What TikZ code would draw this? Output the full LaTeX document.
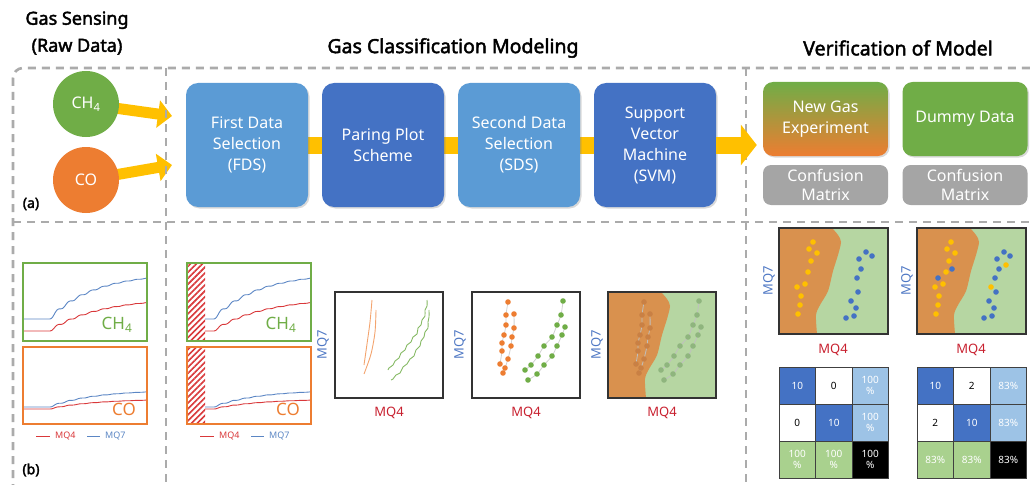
\documentclass[tikz,border=0pt]{standalone}
\usepackage{fontspec}
\setmainfont{Noto Sans}[AutoFakeBold=2.2]
\usetikzlibrary{arrows.meta, positioning, backgrounds, shadows, patterns.meta}

\definecolor{gasgreen}{HTML}{70AD47}
\definecolor{gasorange}{HTML}{ED7D31}
\definecolor{stagelight}{HTML}{5B9BD5}
\definecolor{stagedark}{HTML}{4472C4}
\definecolor{flowyellow}{HTML}{FFC000}
\definecolor{framegray}{HTML}{ABABAB}
\definecolor{boxgray}{HTML}{A5A5A5}
\definecolor{celllight}{HTML}{9DC3E6}
\definecolor{cellgreen}{HTML}{A9D18E}
\definecolor{zoneorange}{HTML}{D9914E}
\definecolor{zonegreen}{HTML}{B6D6A2}
\definecolor{mqred}{HTML}{C8202F}
\definecolor{mqblue}{HTML}{4F78C4}
\definecolor{linered}{HTML}{D9383A}
\definecolor{lineblue}{HTML}{5B86C4}
\definecolor{dotorange}{HTML}{C98044}
\definecolor{dotgreen}{HTML}{8FB57E}

\begin{document}
\begin{tikzpicture}[x=1pt, y=-1pt,
        every node/.style={font=\fontsize{16}{21}\selectfont},
        title/.style={font=\fontsize{19.5}{27}\selectfont\bfseries, align=center},
        frame/.style={framegray, line width=2.6pt, dash pattern=on 8pt off 6pt},
        gas/.style={circle, minimum size=66pt, inner sep=0pt, text=white},
        stage/.style={rounded corners=12pt, minimum width=122pt, minimum height=124pt,
            text=white, align=center, drop shadow={shadow xshift=1.5pt, shadow yshift=-1.5pt, opacity=0.3}},
        result/.style={rounded corners=10pt, minimum width=125pt, minimum height=74pt,
            text=white, align=center, drop shadow={shadow xshift=1.5pt, shadow yshift=-1.5pt, opacity=0.3}},
        cmbox/.style={rounded corners=8pt, fill=boxgray, minimum width=125pt, minimum height=40pt,
            inner sep=0pt, text=white, align=center, font=\fontsize{16}{19}\selectfont},
        feed/.style={flowyellow, line width=11pt, -{Triangle[length=14pt, width=27pt]}},
        band/.style={flowyellow, line width=17pt},
        series/.style={line width=0.9pt},
        tsframe/.style={line width=2.6pt},
        hatch/.style={pattern={Lines[angle=45, distance=4.2pt, line width=1.6pt]}, pattern color=linered},
        plotframe/.style={draw=black!80, line width=1.2pt},
        axislabel/.style={font=\fontsize{13}{13}\selectfont},
        legend/.style={font=\fontsize{9}{9}\selectfont, anchor=west, inner sep=1pt},
        cell/.style={draw=black!75, line width=0.7pt, minimum width=36.5pt, minimum height=37pt,
            inner sep=0pt, align=center, font=\fontsize{10}{11}\selectfont},
        tag/.style={font=\fontsize{14}{14}\selectfont\bfseries}
    ]

    \useasboundingbox (0,0) rectangle (1032,484);

    % titles
    \node[title, font=\fontsize{18}{27}\selectfont\bfseries] (t-raw) at (77,33) {Gas Sensing\\(Raw Data)};
    \node[title] (t-model) at (453,48) {Gas Classification Modeling};
    \node[title] (t-verif) at (898,48) {Verification of Model};

    % dashed frames
    \draw[frame, rounded corners=10pt] (13,68) rectangle (1060,500);
    \draw[frame] (166,68) -- (166,490);
    \draw[frame] (746,68) -- (746,490);
    \draw[frame] (13,222) -- (1040,222);

    % (a) pipeline
    \node[gas, fill=gasgreen] (ch4) at (86,104) {CH\textsubscript{4}};
    \node[gas, fill=gasorange] (co) at (86,180) {CO};
    \coordinate (in1) at (172,116);
    \coordinate (in2) at (172,165);

    \node[stage, fill=stagelight] (fds) at (247,145) {First Data\\Selection\\(FDS)};
    \node[stage, fill=stagedark] (pps) at (383,145) {Paring Plot\\Scheme};
    \node[stage, fill=stagelight] (sds) at (519,145) {Second Data\\Selection\\(SDS)};
    \node[stage, fill=stagedark] (svm) at (655,145) {Support\\Vector\\Machine\\(SVM)};

    \node[result, top color=gasgreen, bottom color=gasorange] (newgas) at (825.5,119) {New Gas\\Experiment};
    \node[result, fill=gasgreen] (dummy) at (965,119) {Dummy Data};
    \node[cmbox] (cm-new) at (825.5,185) {Confusion\\Matrix};
    \node[cmbox] (cm-dummy) at (965,185) {Confusion\\Matrix};

    \begin{scope}[on background layer]
        \draw[feed] (ch4.center) -- (in1);
        \draw[feed] (co.center) -- (in2);
        \draw[band] (fds.center) -- (svm.center);
    \end{scope}
    \draw[band, -{Triangle[length=16pt, width=40pt]}, shorten >=6pt] (svm.east) -- (svm.east -| newgas.west);

    \node[tag] (lab-a) at (31,204) {(a)};
    \node[tag] (lab-b) at (31,470) {(b)};

    % (b) raw signals, then the same after first selection
    \foreach \dx in {0,164} {
        \begin{scope}[shift={(\dx,0)}]
            \draw[series, lineblue] (23,319) -- (49,319) -- plot[domain=0:98, samples=110]
                ({49+\x}, {319-46*(1-exp(-(\x-1.8*sin(32*\x))/45))});
            \draw[series, linered] (23,331) -- (49,331) -- plot[domain=0:98, samples=110]
                ({49+\x}, {331-33*(1-exp(-(\x-1.8*sin(32*\x))/50))});
            \draw[series, lineblue] (23,407) -- (49,407) -- plot[domain=0:98, samples=110]
                ({49+\x}, {407-17*(1-exp(-(\x-1.8*sin(32*\x))/45))});
            \draw[series, linered] (23,409) -- (49,409) -- plot[domain=0:98, samples=110]
                ({49+\x}, {409-10*(1-exp(-(\x-1.8*sin(32*\x))/45))});
            \ifnum\dx>0
                \fill[white] (23,263) rectangle (41,424);
                \fill[hatch] (23,263) rectangle (41,341);
                \fill[hatch] (23,347) rectangle (41,424);
            \fi
            \draw[tsframe, gasgreen] (23,263) rectangle (147,341);
            \draw[tsframe, gasorange] (23,347) rectangle (147,424);
            \node[text=gasgreen, font=\fontsize{17}{17}\selectfont] (ts-ch4-\dx) at (117,325) {CH\textsubscript{4}};
            \node[text=gasorange, font=\fontsize{17}{17}\selectfont] (ts-co-\dx) at (124,409) {CO};
            \draw[linered, line width=1pt] (36,436) -- (50,436);
            \node[legend, text=linered] (leg-mq4-\dx) at (54,436) {MQ4};
            \draw[lineblue, line width=1pt] (87,436) -- (100,436);
            \node[legend, text=lineblue] (leg-mq7-\dx) at (104,436) {MQ7};
        \end{scope}
    }

    % pairing plot, raw trends
    \begin{scope}[shift={(335,292)}]
        \draw[gasorange!70, line width=0.9pt] plot[smooth] coordinates {(37,8) (35,30) (32,52) (29,73)};
        \draw[gasorange!70, line width=0.9pt] plot[smooth] coordinates {(41,18) (40,40) (36,62) (29,82)};
        \draw[gasgreen!85, line width=0.9pt] plot[smooth] coordinates {(92,8) (92,14) (90,18) (90,24) (87,28)
            (86,33) (83,36) (82,42) (78,45) (76,50) (72,53) (70,58) (66,61) (64,66) (60,69) (58,73) (54,76) (53,78)};
        \draw[gasgreen!85, line width=0.9pt] plot[smooth] coordinates {(94,18) (94,25) (93,30) (93,36) (90,40)
            (89,45) (86,49) (85,54) (81,58) (79,64) (75,67) (72,72) (68,75) (65,81) (61,83) (58,87) (56,88)};
        \draw[plotframe] (0,0) rectangle (108,106);
    \end{scope}

    % decision regions
    \foreach \bx/\by in {608/292, 779/228, 917/228} {
        \begin{scope}[shift={(\bx,\by)}]
            \fill[zonegreen] (0,0) rectangle (109,106);
            \fill[zoneorange] (0,0) -- plot[smooth] coordinates {(53,0) (59,7) (62,14) (59,27) (54,43) (49,63) (41,77) (37,87) (38,106)} -- (0,106) -- cycle;
        \end{scope}
    }

    % selected data points
    \foreach \bx/\cor/\cgr/\cln in {472/gasorange/gasgreen/black!18, 608/dotorange/dotgreen/black!25} {
        \begin{scope}[shift={(\bx,292)}]
            \draw[\cln, line width=0.8pt] plot[smooth] coordinates {(36,10) (34,23) (34,33) (32,43) (30,51) (30,59) (28,72)};
            \draw[\cln, line width=0.8pt] plot[smooth] coordinates {(42,22) (42,36) (40,45) (39,54) (36,67) (33,76) (31,81)};
            \draw[\cln, line width=0.8pt] plot[smooth] coordinates {(91,9) (89,23) (85,33) (80,45) (72,54) (66,64) (59,73) (53,78)};
            \draw[\cln, line width=0.8pt] plot[smooth] coordinates {(93,35) (90,43) (85,54) (80,64) (72,73) (65,82) (56,88)};
            \foreach \px/\py in {36/10, 34/23, 34/33, 32/43, 30/51, 30/59, 28/72, 42/22, 42/36, 40/45, 39/54, 36/67, 33/76, 31/81}
                \fill[\cor] (\px,\py) circle[radius=2.8pt];
            \foreach \px/\py in {91/9, 89/23, 85/33, 80/45, 72/54, 66/64, 59/73, 53/78, 93/35, 90/43, 85/54, 80/64, 72/73, 65/82, 56/88}
                \fill[\cgr] (\px,\py) circle[radius=2.8pt];
            \draw[plotframe] (0,0) rectangle (108,106);
        \end{scope}
    }

    % new gas / dummy data scatter
    \foreach \bx in {779, 917} {
        \begin{scope}[shift={(\bx,228)}]
            \foreach \px/\py in {34/14, 30/21, 38/25, 32/33, 29/44, 26/56, 18/59, 22/68, 21/77, 19/86}
                \fill[flowyellow] (\px,\py) circle[radius=2.8pt];
            \foreach \px/\py in {87/24, 93/28, 80/31, 82/41, 78/50, 79/64, 72/73, 77/80, 75/88, 67/90}
                \fill[stagedark] (\px,\py) circle[radius=2.8pt];
            \draw[plotframe] (0,0) rectangle (109,106);
        \end{scope}
    }
    \begin{scope}[shift={(917,228)}]
        \foreach \px/\py in {89/37, 74/59}
            \fill[flowyellow] (\px,\py) circle[radius=2.8pt];
        \foreach \px/\py in {35/41, 21/50}
            \fill[stagedark] (\px,\py) circle[radius=2.8pt];
    \end{scope}

    % axis labels
    \foreach \lx/\ly/\bx/\by in {323/345/389/413, 460/345/526/413, 597/345/662/413, 769/281/833/350, 907/281/971/350} {
        \node[axislabel, text=mqblue, rotate=90] (mq7-\lx) at (\lx,\ly) {MQ7};
        \node[axislabel, text=mqred] (mq4-\bx) at (\bx,\by) {MQ4};
    }

    % confusion matrices
    \foreach \i/\j/\f/\t/\v in {0/0/stagedark/white/10, 0/1/white/black/0, 0/2/celllight/white/100\\\%,
            1/0/white/black/0, 1/1/stagedark/white/10, 1/2/celllight/white/100\\\%,
            2/0/cellgreen/white/100\\\%, 2/1/cellgreen/white/100\\\%, 2/2/black/white/100\\\%}
        \node[cell, fill=\f, text=\t] (cmn-\i\j) at ({797.25+36.5*\j}, {385.5+37*\i}) {\v};
    \foreach \i/\j/\f/\t/\v in {0/0/stagedark/white/10, 0/1/white/black/2, 0/2/celllight/white/83\%,
            1/0/white/black/2, 1/1/stagedark/white/10, 1/2/celllight/white/83\%,
            2/0/cellgreen/white/83\%, 2/1/cellgreen/white/83\%, 2/2/black/white/83\%}
        \node[cell, fill=\f, text=\t] (cmd-\i\j) at ({935.25+36.5*\j}, {385.5+37*\i}) {\v};

\end{tikzpicture}
\end{document}
